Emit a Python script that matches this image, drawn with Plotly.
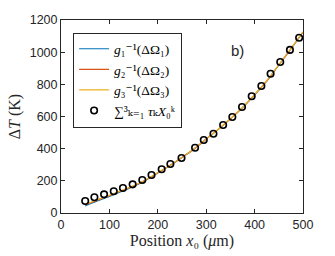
import plotly.graph_objects as go

# Line data (model curves)
x_line = [50, 75, 100, 125, 150, 175, 200, 225, 250, 275, 300, 325, 350, 375, 400, 425, 450, 475, 500]
y_g1 = [44, 74, 103, 133, 164, 203, 249, 295, 345, 398, 460, 520, 585, 655, 735, 820, 920, 1020, 1125]
y_g2 = [50, 80, 108, 138, 168, 205, 250, 295, 345, 398, 460, 520, 585, 655, 735, 820, 920, 1020, 1125]
y_g3 = [53, 82, 110, 140, 170, 206, 251, 296, 346, 399, 461, 521, 586, 656, 736, 821, 921, 1021, 1126]

# Circle data
x_pts = [50, 69, 89, 109, 128, 148, 168, 187, 208, 226, 249, 277, 295, 315, 335, 354, 374, 394, 414, 433, 453, 473, 492]
y_pts = [75, 98, 116, 135, 155, 178, 205, 236, 272, 305, 342, 406, 454, 493, 547, 597, 659, 726, 790, 866, 939, 1014, 1090]

names = [
    "<i>g</i>₁⁻¹(ΔΩ₁)",
    "<i>g</i>₂⁻¹(ΔΩ₂)",
    "<i>g</i>₃⁻¹(ΔΩ₃)",
    "∑³ₖ₌₁ <i>τ</i>ₖ<i>X</i>₀ᵏ",
]
colors = ["#0072BD", "#D95319", "#EDB120"]

fig = go.Figure()
for ys, nm, c in zip([y_g1, y_g2, y_g3], names[:3], colors):
    fig.add_trace(go.Scatter(x=x_line, y=ys, mode="lines", name=nm,
                             line=dict(color=c, width=1.1, shape="spline")))
fig.add_trace(go.Scatter(x=x_pts, y=y_pts, mode="markers", name=names[3],
                         marker=dict(symbol="circle-open", size=6.5, color="black",
                                     line=dict(width=1.6, color="black"))))

fig.add_annotation(x=365, y=1013, text="b)", showarrow=False,
                   font=dict(family="Liberation Sans, Arial", size=15, color="#262626"))

axis_common = dict(showgrid=False, zeroline=False, showline=True, linecolor="#262626",
                   linewidth=1, mirror="ticks", ticks="inside", ticklen=4,
                   tickcolor="#262626", automargin=False,
                   tickfont=dict(family="Liberation Sans, Arial", size=12.5, color="#262626"))

fig.update_layout(
    width=335, height=256,
    margin=dict(l=61, r=32, t=20, b=43),
    paper_bgcolor="white", plot_bgcolor="white",
    xaxis=dict(range=[0, 500], tickvals=[0, 100, 200, 300, 400, 500],
               title=dict(text="Position <i>x</i>₀ (<i>μ</i>m)",
                          font=dict(family="Liberation Serif, DejaVu Serif, Times New Roman", size=16, color="#262626"),
                          standoff=1),
               **axis_common),
    yaxis=dict(range=[0, 1200], tickvals=[0, 200, 400, 600, 800, 1000, 1200],
               title=dict(text="Δ<i>T</i> (K)",
                          font=dict(family="Liberation Serif, DejaVu Serif, Times New Roman", size=16, color="#262626"),
                          standoff=5),
               **axis_common),
    legend=dict(x=0.05, y=0.935, xanchor="left", yanchor="top",
                bgcolor="white", bordercolor="#262626", borderwidth=1,
                font=dict(family="Liberation Serif, DejaVu Serif, Times New Roman", size=13.5, color="black"),
                tracegroupgap=0, itemwidth=30),
    showlegend=True,
)

fig.write_html("out.html", config={"displayModeBar": False},
               post_script="document.body.style.margin='0';document.body.style.overflow='hidden';")
